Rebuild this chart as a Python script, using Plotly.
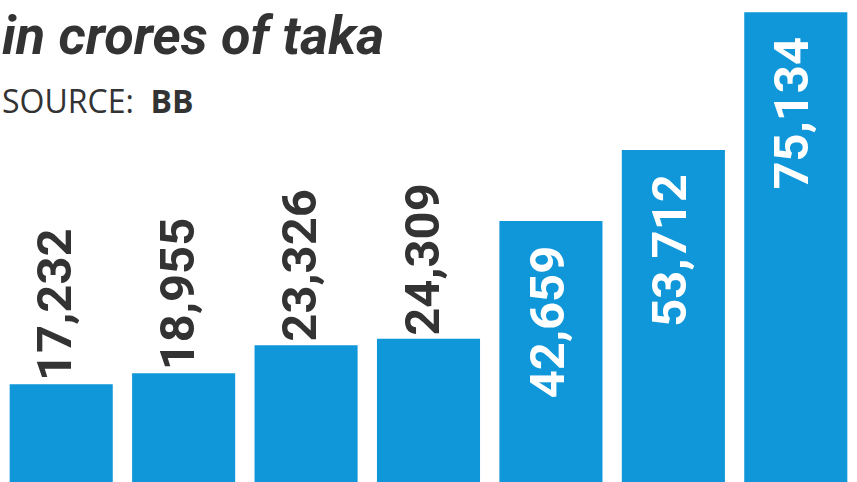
import plotly.graph_objects as go

categories = ["A", "B", "C", "D", "E", "F", "G"]
values = [17232, 18955, 23326, 24309, 42659, 53712, 75134]
labels = ["17,232", "18,955", "23,326", "24,309", "42,659", "53,712", "75,134"]
inside = [False, False, False, False, True, True, True]

BLUE = "#0f97da"
DARK = "#333333"
NUM_FONT = "Roboto, sans-serif"

fig = go.Figure()
fig.add_trace(go.Bar(x=categories, y=values, marker=dict(color=BLUE, line=dict(width=0)),
                     hoverinfo="skip"))

for c, v, t, ins in zip(categories, values, labels, inside):
    fig.add_annotation(
        x=c, y=v, xref="x", yref="y", text=f"<b>{t}</b>", showarrow=False,
        textangle=-90,
        yanchor="top" if ins else "bottom",
        yshift=-22 if ins else 1,
        xshift=-4 if ins else -6,
        font=dict(family=NUM_FONT, size=49, color="white" if ins else DARK),
    )

fig.add_annotation(
    x=0, y=1, xref="paper", yref="paper", xanchor="left", yanchor="top",
    text="<b><i>in crores of taka</i></b>", showarrow=False, yshift=-2,
    font=dict(family=NUM_FONT, size=54, color=DARK),
)
fig.add_annotation(
    x=0, y=1, xref="paper", yref="paper", xanchor="left", yanchor="top",
    text="SOURCE:  <b>BB</b>", showarrow=False, yshift=-77,
    font=dict(family="Open Sans, Noto Sans, sans-serif", size=32, color=DARK),
)

fig.update_layout(
    width=857, height=482,
    margin=dict(l=0, r=0, t=0, b=0),
    paper_bgcolor="white", plot_bgcolor="white",
    bargap=0.158,
    showlegend=False,
    hovermode=False,
    xaxis=dict(visible=False),
    yaxis=dict(visible=False, range=[2023, 77043]),
)

fig.write_html("out.html", config={"displayModeBar": False},
               post_script="document.body.style.margin='0';")
